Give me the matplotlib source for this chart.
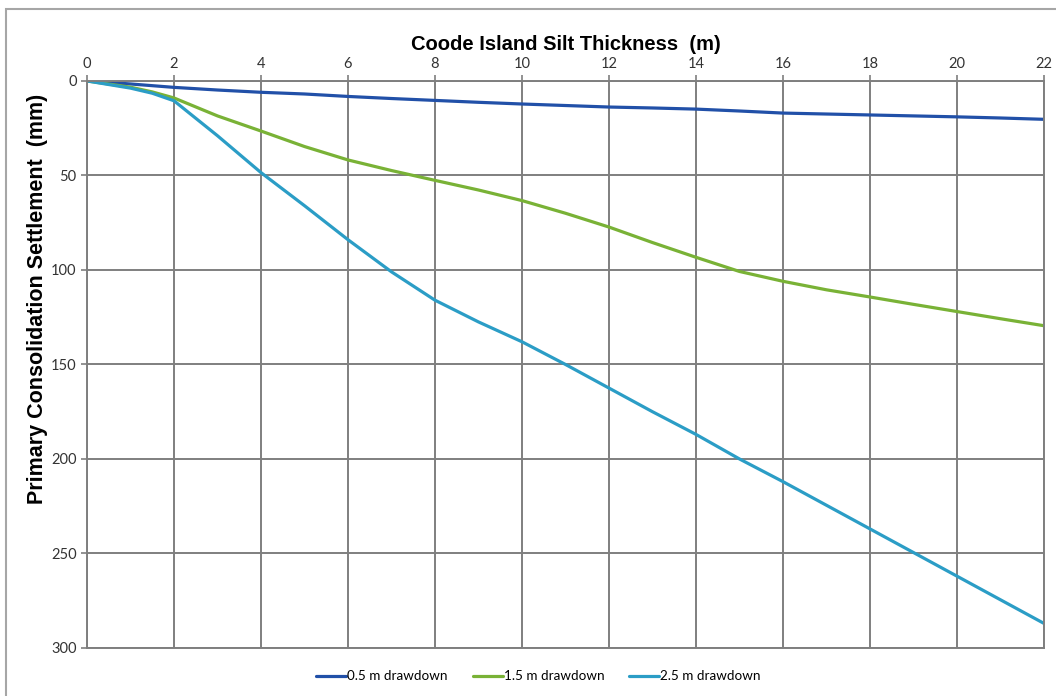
import matplotlib.pyplot as plt
from matplotlib.patches import Rectangle

# silt thickness (m) and settlement (mm)
thickness = [0, 1, 1.5, 2, 3, 4, 5, 6, 7, 8, 9, 10, 11, 12, 13, 14, 15, 16, 17, 18, 19, 20, 21, 22]
drawdown_05 = [0, 1.6, 2.5, 3.4, 4.8, 6.0, 6.9, 8.2, 9.3, 10.3, 11.3, 12.2, 13.0, 13.8, 14.3, 14.9, 15.9, 17.0, 17.5, 18.0, 18.5, 19.0, 19.6, 20.3]
drawdown_15 = [0, 3.3, 5.8, 9.0, 18.5, 26.5, 34.7, 41.8, 47.4, 52.6, 57.7, 63.3, 70.0, 77.3, 85.5, 93.3, 100.8, 106.0, 110.5, 114.3, 118.2, 122.0, 125.8, 129.5]
drawdown_25 = [0, 3.8, 6.5, 10.5, 29.0, 48.5, 66.0, 84.0, 101.0, 116.0, 127.5, 138.0, 150.0, 162.5, 175.0, 187.0, 200.0, 212.0, 224.5, 237.0, 249.5, 262.0, 274.5, 287.0]

series = [
    ('0.5 m drawdown', drawdown_05, '#2150a8'),
    ('1.5 m drawdown', drawdown_15, '#79b236'),
    ('2.5 m drawdown', drawdown_25, '#2b9dc6'),
]

plt.rcParams['font.family'] = ['Lato', 'DejaVu Sans']

fig = plt.figure(figsize=(10.56, 6.96), dpi=100)
ax = fig.add_axes([0.0824, 0.069, 0.9062, 0.8147])

for name, vals, col in series:
    ax.plot(thickness, vals, color=col, lw=2.3, label=name,
            solid_capstyle='round', solid_joinstyle='round')

ax.set_xlim(0, 22)
ax.set_ylim(300, 0)
ax.set_xticks(range(0, 23, 2))
ax.set_yticks(range(0, 301, 50))
ax.xaxis.tick_top()
ax.xaxis.set_label_position('top')
ax.grid(True, color='#7f7f7f', lw=1.4)
ax.set_axisbelow(True)
for s in ax.spines.values():
    s.set_color('#7f7f7f')
    s.set_linewidth(1.4)
ax.tick_params(colors='#7f7f7f', labelcolor='#333333', labelsize=10.5, length=4, width=1.2)

ax.set_xlabel('Coode Island Silt Thickness  (m)', fontsize=14.5, fontweight='bold',
              family=['Liberation Sans'], labelpad=5)
ax.set_ylabel('Primary Consolidation Settlement  (mm)', fontsize=15.5, fontweight='bold',
              family=['Liberation Sans'])
ax.yaxis.set_label_coords(-0.041, 0.616)

ax.legend(loc='upper center', bbox_to_anchor=(0.472, -0.018), ncol=3, frameon=False,
          fontsize=9.7, handlelength=2.2, handletextpad=0.1, columnspacing=1.85)

fig.patches.append(Rectangle((6 / 1056, -0.05), 1.0, 1 - 9 / 696 + 0.05,
                             transform=fig.transFigure, fill=False,
                             edgecolor='#a6a6a6', lw=1.5))

fig.savefig('out.png', dpi=100)
